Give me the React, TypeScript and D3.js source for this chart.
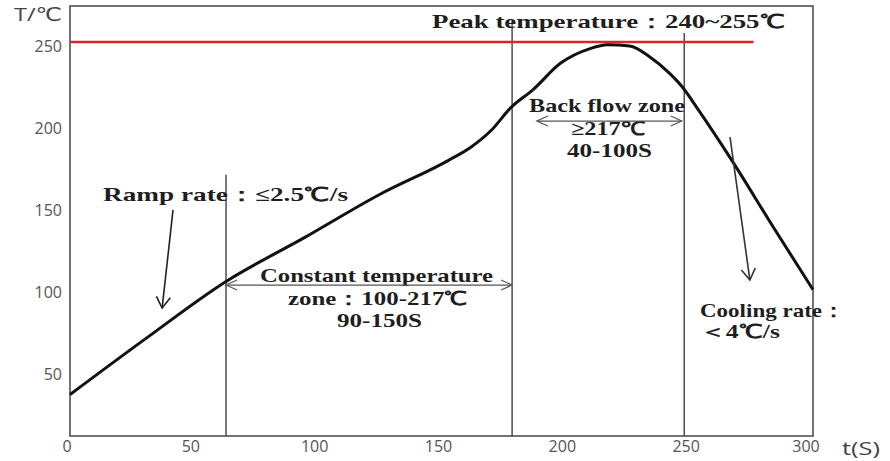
import React from "react";
import * as d3 from "d3";

// ---- data ----
const TIME_S = [0, 30, 63, 95, 125, 153, 162, 170, 178, 187, 198, 210, 217, 226, 234, 242, 247, 254, 268, 284, 300];
const TEMP_C = [35, 68.5, 104, 131, 157, 178, 186, 196, 210, 221, 237, 246, 248.3, 247.5, 241, 231, 223, 208, 176, 137, 99];
const X_TICKS = [0, 50, 100, 150, 200, 250, 300];
const Y_TICKS = [50, 100, 150, 200, 250];
const ZONE_BOUNDS = [63, 178.5, 248];
const ZONE_TOPS = [169, 263, 255.5];
const PEAK_LIMIT = 250;
const PEAK_LINE_END = 276;

const W = 890;
const H = 461;
const PLOT = { left: 70, right: 813, top: 6, bottom: 436 };

const x = d3.scaleLinear().domain([0, 300]).range([PLOT.left, PLOT.right]);
const y = d3.scaleLinear().domain([0, 250]).range([452, 42]);

const SERIF = "'Liberation Serif', 'Times New Roman', serif";
const SANS = "'Open Sans', 'DejaVu Sans', sans-serif";

function arrowHead(x1: number, y1: number, x2: number, y2: number, len: number, half: number) {
  const dx = x2 - x1, dy = y2 - y1;
  const L = Math.hypot(dx, dy);
  const ux = dx / L, uy = dy / L;
  const bx = x2 - ux * len, by = y2 - uy * len;
  const px = -uy, py = ux;
  return `M${bx + px * half},${by + py * half} L${x2},${y2} L${bx - px * half},${by - py * half}`;
}

function Arrow({ x1, y1, x2, y2, both = false, len = 10, half = 5, color = "#333", w = 1.3 }: any) {
  return (
    <g stroke={color} strokeWidth={w} fill="none">
      <line x1={x1} y1={y1} x2={x2} y2={y2} />
      <path d={arrowHead(x1, y1, x2, y2, len, half)} />
      {both && <path d={arrowHead(x2, y2, x1, y1, len, half)} />}
    </g>
  );
}

function T({ x: tx, y: ty, w, children, size = 19, anchor = "start" }: any) {
  return (
    <text
      x={tx}
      y={ty}
      fontFamily={SERIF}
      fontWeight="bold"
      fontSize={size}
      fill="#1e1e1e"
      textLength={w}
      lengthAdjust="spacingAndGlyphs"
      textAnchor={anchor}
    >
      {children}
    </text>
  );
}

export default function App() {
  const pts = TIME_S.map((t, i) => [t, TEMP_C[i]] as [number, number]);
  const line = d3
    .line<[number, number]>()
    .x((d) => x(d[0]))
    .y((d) => y(d[1]))
    .curve(d3.curveMonotoneX);

  return (
    <svg width={W} height={H} style={{ position: "absolute", left: 0, top: 0, background: "#fff" }}>
      {/* frame */}
      <rect
        x={PLOT.left}
        y={PLOT.top}
        width={PLOT.right - PLOT.left}
        height={PLOT.bottom - PLOT.top}
        fill="none"
        stroke="#444"
        strokeWidth={1.5}
      />
      {/* zone boundaries */}
      {ZONE_BOUNDS.map((t, i) => (
        <line key={t} x1={x(t)} x2={x(t)} y1={PLOT.bottom} y2={y(ZONE_TOPS[i])} stroke="#333" strokeWidth={1.3} />
      ))}
      {/* peak limit line */}
      <line x1={x(0)} x2={x(PEAK_LINE_END)} y1={y(PEAK_LIMIT)} y2={y(PEAK_LIMIT)} stroke="#d9262b" strokeWidth={2.5} />

      {/* profile curve */}
      <path d={line(pts) || ""} fill="none" stroke="#111" strokeWidth={3} strokeLinejoin="round" />

      {/* y ticks */}
      {Y_TICKS.map((v) => (
        <text key={v} x={62} y={y(v) + 4} dy="0.35em" textAnchor="end" fontFamily={SANS} fontSize={16} fill="#555">
          {v}
        </text>
      ))}
      {/* x ticks */}
      {X_TICKS.map((v) => (
        <text key={v} x={x(v) - (v === 300 ? 7 : 3)} y={452} textAnchor="middle" fontFamily={SANS} fontSize={16} fill="#555">
          {v}
        </text>
      ))}
      <text x={14} y={21} fontFamily={SANS} fontSize={19} fill="#444" textLength={48} lengthAdjust="spacingAndGlyphs">
        T/℃
      </text>
      <text x={842} y={455} fontFamily={SANS} fontSize={19} fill="#444" textLength={38} lengthAdjust="spacingAndGlyphs">
        t(S)
      </text>

      {/* annotations */}
      <T x={432} y={28} w={353}>Peak temperature：240~255℃</T>

      <T x={103} y={201} w={245}>Ramp rate：≤2.5℃/s</T>
      <Arrow x1={x(41.6)} y1={y(147.6)} x2={x(37.2)} y2={y(87.8)} len={11} half={7} color="#222" w={1.6} />

      <T x={260} y={282} w={233}>Constant temperature</T>
      <T x={288} y={305} w={180}>zone：100-217℃</T>
      <T x={337} y={327} w={85}>90-150S</T>
      <Arrow x1={x(ZONE_BOUNDS[0])} y1={y(101.8)} x2={x(ZONE_BOUNDS[1])} y2={y(101.8)} both len={11} half={5} color="#555" w={1.2} />

      <T x={529} y={112} w={156}>Back flow zone</T>
      <T x={571} y={135} w={74}>≥217℃</T>
      <T x={567} y={157} w={85}>40-100S</T>
      <Arrow x1={x(188.5)} y1={y(201.8)} x2={x(247)} y2={y(201.8)} both len={11} half={5} color="#555" w={1.2} />

      <Arrow x1={x(266.5)} y1={y(192)} x2={x(274.5)} y2={y(104.9)} len={11} half={7} color="#333" w={1.6} />
      <T x={700} y={317} w={145}>Cooling rate：</T>
      <T x={700} y={338} w={80}>＜4℃/s</T>
    </svg>
  );
}
